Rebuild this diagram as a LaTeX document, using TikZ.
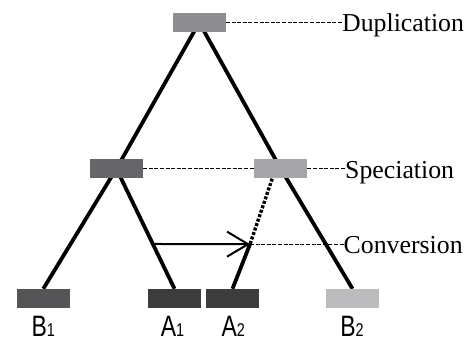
\documentclass[tikz,border=0pt]{standalone}
\usepackage{graphicx}
\usepackage{fontspec}
\setmainfont{Liberation Serif}
\newfontfamily\labfont{Liberation Sans}
\usetikzlibrary{arrows.meta,backgrounds,calc}
\definecolor{cTop}{RGB}{142,142,145}
\definecolor{cMidL}{RGB}{102,102,106}
\definecolor{cMidR}{RGB}{166,166,170}
\definecolor{cB1}{RGB}{85,85,88}
\definecolor{cA}{RGB}{60,60,61}
\definecolor{cB2}{RGB}{188,188,191}
\newcommand\mylabel[2]{\scalebox{0.78}[1]{\labfont\fontsize{29.5}{30}\selectfont #1{\fontsize{18.5}{20}\selectfont #2}}}
\begin{document}
\begin{tikzpicture}[x=1pt,y=-1pt,
  gbox/.style={rectangle,draw=none,inner sep=0pt,minimum width=53pt,minimum height=19.5pt},
  branch/.style={line width=3.8pt},
  leader/.style={line width=0.9pt,dash pattern=on 4pt off 1.6pt},
  dotline/.style={line width=3.4pt,dash pattern=on 3pt off 1.7pt},
  evt/.style={font=\fontsize{25.8}{28}\selectfont,inner sep=0pt,anchor=base west},
  lab/.style={inner sep=0pt,anchor=base}]
\useasboundingbox (0,0) rectangle (470,341);
% boxes
\node[gbox,fill=cTop]  (top)  at (199.2,22.5) {};
\node[gbox,fill=cMidL] (midL) at (116.4,168.7) {};
\node[gbox,fill=cMidR] (midR) at (280.7,168.7) {};
\node[gbox,fill=cB1]   (B1)   at (43.3,298.7) {};
\node[gbox,fill=cA]    (A1)   at (174.5,298.7) {};
\node[gbox,fill=cA]    (A2)   at (232.5,298.7) {};
\node[gbox,fill=cB2]   (B2)   at (352.5,298.7) {};
% leaf labels
\node[lab] (lB1) at (43.3,336) {\mylabel{B}{1}};
\node[lab] (lA1) at (172.5,336) {\mylabel{A}{1}};
\node[lab] (lA2) at (233.3,336) {\mylabel{A}{2}};
\node[lab] (lB2) at (352,336) {\mylabel{B}{2}};
% event labels
\node[evt] (dup)  at (342,31.8) {Duplication};
\node[evt] (spec) at (345,178.2) {Speciation};
\node[evt] (conv) at (343.5,253.6) {Conversion};
% conversion point
\coordinate (cp) at (250,244.2);
\coordinate (cs) at ($(midL.center)!0.627!(A1.north)$);
\begin{scope}[on background layer]
  \draw[branch] (top.center) -- (midL.center) -- (B1.north);
  \draw[branch] (top.center) -- (midR.center) -- (B2.north);
  \draw[branch] (midL.center) -- (A1.north);
  \draw[branch] (cp) -- (A2.north);
  \draw[dotline] ([xshift=-8.5pt]midR.south) -- (cp);
\end{scope}
\draw[line width=2pt,-{Straight Barb[length=21pt,width=25pt]}] (cs) -- (cp);
% leaders
\draw[leader] (top.east) -- (top.east -| dup.west);
\draw[leader] (midL.east) -- (midR.west);
\draw[leader] (midR.east) -- (midR.east -| spec.west);
\draw[leader] (cp) -- (cp -| conv.west);
\end{tikzpicture}
\end{document}
